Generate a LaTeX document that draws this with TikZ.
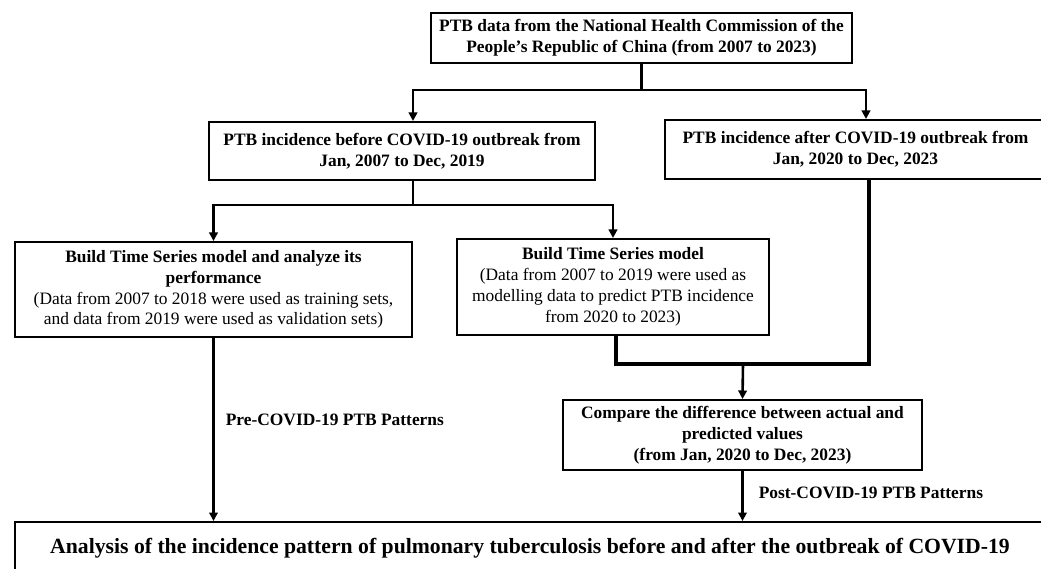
\documentclass[tikz,border=0pt]{standalone}
\usepackage{fontspec}
\setmainfont{Liberation Serif}
\usetikzlibrary{arrows.meta,calc}
\newcommand\txtsz{\fontsize{17.4}{20.8}\selectfont}
\newcommand\lblsz{\fontsize{17.4}{21}\selectfont\bfseries}
\newcommand\bigsz{\fontsize{21.7}{26}\selectfont\bfseries}
\tikzset{
  box/.style={draw, line width=2pt, inner sep=0pt, align=center, font=\txtsz},
  conn/.style={line width=2.8pt},
  thickconn/.style={line width=4pt, line join=miter},
  arr/.style={line width=2.6pt, -{Triangle[width=8.5pt,length=8.5pt]}},
  lbl/.style={inner sep=0pt, font=\lblsz}
}
\begin{document}
\begin{tikzpicture}[x=1pt,y=-1pt]
\useasboundingbox (0,0) rectangle (1041,569);
\fill[white] (0,0) rectangle (1041,569);
\clip (0,0) rectangle (1041,569);

\node[box, minimum width=421pt, minimum height=50pt] (top) at (641.5,38)
  {\bfseries PTB data from the National Health Commission of the\\ \bfseries People's Republic of China (from 2007 to 2023)};
\node[box, minimum width=386pt, minimum height=58pt] (before) at (402,151)
  {\bfseries PTB incidence before COVID-19 outbreak from\\ \bfseries Jan, 2007 to Dec, 2019};
\node[box, minimum width=381pt, minimum height=59pt] (after) at (855.5,149.5)
  {\bfseries PTB incidence after COVID-19 outbreak from\\ \bfseries Jan, 2020 to Dec, 2023};
\node[box, minimum width=397pt, minimum height=95pt] (left) at (213.5,289.5)
  {\bfseries Build Time Series model and analyze its\\ \bfseries performance\\ (Data from 2007 to 2018 were used as training sets,\\ and data from 2019 were used as validation sets)};
\node[box, minimum width=312pt, minimum height=96pt] (mid) at (613,287)
  {\bfseries Build Time Series model\\ (Data from 2007 to 2019 were used as\\ modelling data to predict PTB incidence\\ from 2020 to 2023)};
\node[box, minimum width=359pt, minimum height=70pt] (cmp) at (742.5,435)
  {\bfseries Compare the difference between actual and\\ \bfseries predicted values\\ \bfseries (from Jan, 2020 to Dec, 2023)};
\node[box, minimum width=1030pt, minimum height=52pt, font=\bigsz] (bot) at (530,548)
  {Analysis of the incidence pattern of pulmonary tuberculosis before and after the outbreak of COVID-19};

% top split
\coordinate (s1) at (641.5,90);
\draw[conn] (top.south) -- (s1);
\draw[arr] (s1) -| ([xshift=11pt]before.north);
\draw[arr] (s1) -| ([xshift=10.5pt]after.north);

% before split
\coordinate (s2) at (413,205);
\draw[conn] ([xshift=11pt]before.south) -- (s2);
\draw[arr] (s2) -| (left.north);
\draw[arr] (s2) -| (mid.north);

% merge
\coordinate (m) at (743,364);
\draw[thickconn] ([xshift=13.5pt]after.south) |- (m) -| ([xshift=3pt]mid.south);
\draw[arr] (m) -- (cmp.north);

% to bottom
\draw[arr] (left.south) -- node[lbl, pos=0.45, right=11pt] {Pre-COVID-19 PTB Patterns} (left.south |- bot.north);
\draw[arr] (cmp.south) -- node[lbl, pos=0.44, right=15pt] {Post-COVID-19 PTB Patterns} (cmp.south |- bot.north);
\end{tikzpicture}
\end{document}
